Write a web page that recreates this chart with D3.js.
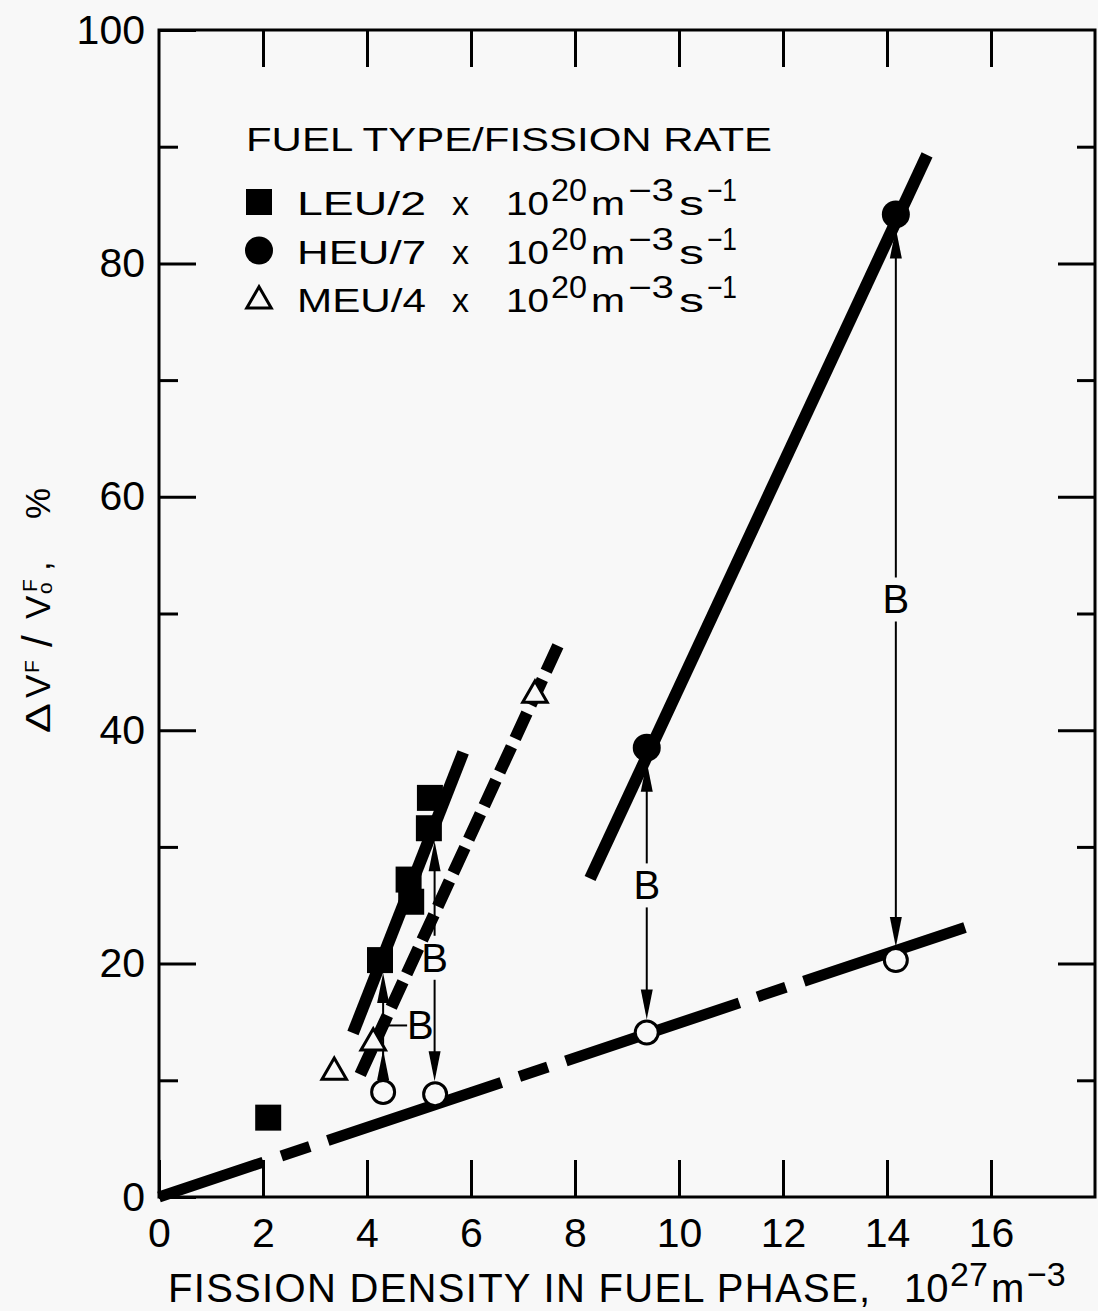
<!DOCTYPE html>
<html>
<head>
<meta charset="utf-8">
<script src="https://cdn.jsdelivr.net/npm/d3@7"></script>
<style>
  body { margin: 0; background: #f8f8f8; }
  text { font-family: "Liberation Sans", Arial, sans-serif; fill: #000; }
</style>
</head>
<body>
<svg id="chart"></svg>
<script>
// tick values
var xTickVals = [0, 2, 4, 6, 8, 10, 12, 14, 16];
var yTickVals = [0, 20, 40, 60, 80, 100];
var yMinorVals = [10, 30, 50, 70, 90];

// measured points [fission density, swelling %]
var leuPts = [[2.10, 6.8], [4.25, 20.3], [4.80, 27.2], [4.85, 25.3], [5.19, 31.6], [5.21, 34.2]];
var heuPts = [[9.38, 38.5], [14.17, 84.2]];
var meuPts = [[3.37, 10.7], [4.12, 13.2], [7.23, 43.0]];
var openPts = [[4.31, 9.0], [5.31, 8.8], [9.38, 14.1], [14.17, 20.3]];

// fitted lines
var leuFit = [[3.73, 14.05], [5.85, 38.1]];
var meuFit = [[3.87, 10.5], [7.71, 47.6]];
var heuFit = [[8.29, 27.3], [14.77, 89.3]];
var baseFit = [[0, 0], [15.5, 23.1]];

// "B" arrows: x, top value, bottom value, label value
var bArrows = [
  { x: 9.38, top: 38.5, bottom: 14.1, label: 26.7, topR: 14 },
  { x: 14.17, top: 84.2, bottom: 20.3, label: 51.2, topR: 14 },
  { x: 5.30, top: 31.6, bottom: 8.8, label: 20.5, topR: 13 }
];
// arrow at x=4.31: circle -> triangle -> square, label beside
var sideArrow = { x: 4.31, bottom: 9.0, mid: 13.2, top: 20.3, label: 14.7 };

var legendRows = [
  { name: "LEU/2", sym: "square" },
  { name: "HEU/7", sym: "circle" },
  { name: "MEU/4", sym: "triangle" }
];

var W = 1098, H = 1311;
var svg = d3.select("#chart").attr("width", W).attr("height", H);
svg.append("rect").attr("width", W).attr("height", H).attr("fill", "#f8f8f8");

var x = d3.scaleLinear().domain([0, 18]).range([159, 1095]);
var y = d3.scaleLinear().domain([0, 100]).range([1197, 30]);

function styleAxis(g) {
  g.select(".domain").remove();
  g.selectAll("line").attr("stroke", "#000").attr("stroke-width", 3);
  g.selectAll("text").attr("font-size", 41);
}

// axes (ticks inward)
svg.append("g").attr("transform", "translate(0,1197)")
  .call(d3.axisBottom(x).tickValues(xTickVals).tickSize(-37).tickPadding(21)).call(styleAxis);
svg.append("g").attr("transform", "translate(0,30)")
  .call(d3.axisTop(x).tickValues(xTickVals.slice(1)).tickSize(-37).tickFormat("")).call(styleAxis);
svg.append("g").attr("transform", "translate(159,0)")
  .call(d3.axisLeft(y).tickValues(yTickVals).tickSize(-37).tickPadding(14)).call(styleAxis);
svg.append("g").attr("transform", "translate(159,0)")
  .call(d3.axisLeft(y).tickValues(yMinorVals).tickSize(-19).tickFormat("")).call(styleAxis);
svg.append("g").attr("transform", "translate(1095,0)")
  .call(d3.axisRight(y).tickValues(yTickVals.slice(1, 5)).tickSize(-37).tickFormat("")).call(styleAxis);
svg.append("g").attr("transform", "translate(1095,0)")
  .call(d3.axisRight(y).tickValues(yMinorVals).tickSize(-18).tickFormat("")).call(styleAxis);

// frame
svg.append("rect")
  .attr("x", x(0)).attr("y", y(100))
  .attr("width", x(18) - x(0)).attr("height", y(0) - y(100))
  .attr("fill", "none").attr("stroke", "#000").attr("stroke-width", 3);

// fit lines
var line = d3.line().x(function(d){ return x(d[0]); }).y(function(d){ return y(d[1]); });

svg.append("path").datum(baseFit).attr("d", line)
  .attr("fill", "none").attr("stroke", "#000").attr("stroke-width", 11)
  .attr("stroke-dasharray", "183,19,30,19").attr("stroke-dashoffset", 73);
svg.append("path").datum(leuFit).attr("d", line)
  .attr("fill", "none").attr("stroke", "#000").attr("stroke-width", 12);
svg.append("path").datum(meuFit).attr("d", line)
  .attr("fill", "none").attr("stroke", "#000").attr("stroke-width", 12)
  .attr("stroke-dasharray", "28,9");
svg.append("path").datum(heuFit).attr("d", line)
  .attr("fill", "none").attr("stroke", "#000").attr("stroke-width", 12);

// arrows
var arrows = svg.append("g");
function head(px, tip, dir) {
  // dir -1: points up, +1: points down
  var base = tip - dir * 30;
  arrows.append("path")
    .attr("d", "M" + px + "," + tip + "L" + (px - 6) + "," + base + "L" + (px + 6) + "," + base + "Z")
    .attr("fill", "#000");
}
function stem(px, y1, y2) {
  arrows.append("line").attr("x1", px).attr("x2", px).attr("y1", y1).attr("y2", y2)
    .attr("stroke", "#000").attr("stroke-width", 2);
}
bArrows.forEach(function(a) {
  var px = x(a.x);
  var tTop = y(a.top) + a.topR, tBot = y(a.bottom) - 13, ly = y(a.label);
  stem(px, tTop + 10, ly - 22);
  stem(px, ly + 22, tBot - 10);
  head(px, tTop, -1);
  head(px, tBot, 1);
  arrows.append("text").attr("x", px).attr("y", ly + 14)
    .attr("text-anchor", "middle").attr("font-size", 40).text("B");
});
(function(a) {
  var px = x(a.x), ly = y(a.label);
  stem(px, y(a.bottom) - 13, y(a.top) + 20);
  head(px, y(a.mid) + 7, -1);
  head(px, y(a.top) + 13, -1);
  arrows.append("line").attr("x1", px).attr("x2", px + 24).attr("y1", ly).attr("y2", ly)
    .attr("stroke", "#000").attr("stroke-width", 2);
  arrows.append("text").attr("x", px + 24).attr("y", ly + 14)
    .attr("font-size", 40).text("B");
})(sideArrow);

// markers
var sq = d3.symbol().type(d3.symbolSquare).size(26 * 26);
var tri = d3.symbol().type(d3.symbolTriangle).size(260);

svg.append("g").selectAll("path").data(leuPts).enter().append("path")
  .attr("d", sq).attr("transform", function(d){ return "translate(" + x(d[0]) + "," + y(d[1]) + ")"; })
  .attr("fill", "#000");
svg.append("g").selectAll("circle").data(heuPts).enter().append("circle")
  .attr("cx", function(d){ return x(d[0]); }).attr("cy", function(d){ return y(d[1]); })
  .attr("r", 14).attr("fill", "#000");
svg.append("g").selectAll("path").data(meuPts).enter().append("path")
  .attr("d", tri).attr("transform", function(d){ return "translate(" + x(d[0]) + "," + y(d[1]) + ")"; })
  .attr("fill", "#f8f8f8").attr("stroke", "#000").attr("stroke-width", 3);
svg.append("g").selectAll("circle").data(openPts).enter().append("circle")
  .attr("cx", function(d){ return x(d[0]); }).attr("cy", function(d){ return y(d[1]); })
  .attr("r", 11.5).attr("fill", "#f8f8f8").attr("stroke", "#000").attr("stroke-width", 3);

// legend
var leg = svg.append("g");
leg.append("text").attr("x", 246).attr("y", 151).attr("font-size", 34)
  .attr("textLength", 526).attr("lengthAdjust", "spacingAndGlyphs").text("FUEL TYPE/FISSION RATE");

legendRows.forEach(function(r, i) {
  var b = 215 + i * 48.5, cy = b - 13;
  if (r.sym === "square") {
    leg.append("path").attr("d", sq).attr("transform", "translate(259," + cy + ")").attr("fill", "#000");
  } else if (r.sym === "circle") {
    leg.append("circle").attr("cx", 259).attr("cy", cy).attr("r", 14).attr("fill", "#000");
  } else {
    leg.append("path").attr("d", tri).attr("transform", "translate(259," + (cy + 2) + ")")
      .attr("fill", "none").attr("stroke", "#000").attr("stroke-width", 3);
  }
  function piece(px, txt, size, dy, len) {
    var t = leg.append("text").attr("x", px).attr("y", b + dy).attr("font-size", size).text(txt);
    if (len) t.attr("textLength", len).attr("lengthAdjust", "spacingAndGlyphs");
  }
  piece(297, r.name, 34, 0, 129);
  piece(452, "x", 34, 0, 0);
  piece(506, "10", 34, 0, 43);
  piece(551, "20", 31, -14, 36);
  piece(591, "m", 34, 0, 34);
  piece(628, "\u22123", 31, -14, 46);
  piece(679, "s", 34, 0, 25);
  piece(707, "\u22121", 31, -14, 30);
});

// x axis title
svg.append("text").attr("x", 168).attr("y", 1302).attr("font-size", 40)
  .attr("textLength", 702).attr("lengthAdjust", "spacing").text("FISSION DENSITY IN FUEL PHASE,");
var xt = svg.append("g");
xt.append("text").attr("x", 904).attr("y", 1302).attr("font-size", 40).text("10");
xt.append("text").attr("x", 950).attr("y", 1286).attr("font-size", 34).text("27");
xt.append("text").attr("x", 991).attr("y", 1302).attr("font-size", 40).text("m");
xt.append("text").attr("x", 1027).attr("y", 1286).attr("font-size", 34).text("\u22123");

// y axis title
var yt = svg.append("g").attr("transform", "translate(50,733) rotate(-90)");
yt.append("text").attr("x", 0).attr("y", 0).attr("font-size", 35)
  .attr("textLength", 30).attr("lengthAdjust", "spacingAndGlyphs").text("\u0394");
yt.append("text").attr("x", 35).attr("y", 0).attr("font-size", 35).text("V");
yt.append("text").attr("x", 60).attr("y", -11).attr("font-size", 21).text("F");
yt.append("text").attr("x", 86).attr("y", 2).attr("font-size", 42).text("/");
yt.append("text").attr("x", 114).attr("y", 0).attr("font-size", 35).text("V");
yt.append("text").attr("x", 139).attr("y", 2).attr("font-size", 21).text("o");
yt.append("text").attr("x", 141).attr("y", -13).attr("font-size", 21).text("F");
yt.append("text").attr("x", 162).attr("y", 0).attr("font-size", 35).text(",");
yt.append("text").attr("x", 214).attr("y", 0).attr("font-size", 35).text("%");
</script>
</body>
</html>
